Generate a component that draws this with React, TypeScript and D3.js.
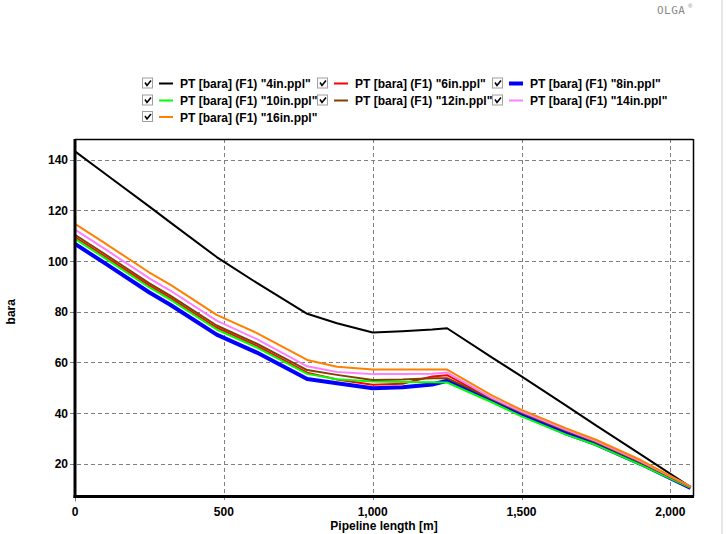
import React from "react";
import * as d3 from "d3";

const distances = [0, 100, 250, 320, 476, 611, 780, 880, 1000, 1100, 1200, 1250, 1400, 1500, 1650, 1750, 1900, 2068];

const p4in = [143.3, 134.6, 121.5, 115.3, 101.6, 91.4, 79.2, 75.5, 71.8, 72.3, 73, 73.5, 62, 54.5, 43, 35.2, 23.7, 10.8];
const p6in = [109.5, 101.9, 90.3, 85.5, 73.7, 66.5, 56, 53.3, 51.2, 51.6, 54.5, 55, 45.6, 40, 32.8, 28.4, 20.4, 10.7];
const p8in = [106.8, 99.2, 87.6, 82.8, 71, 63.9, 53.5, 51.8, 49.8, 50.2, 51.3, 52.8, 45, 39.5, 32, 27.8, 20, 10.5];
const p10in = [108.8, 101.2, 89.6, 84.8, 73, 65.9, 55.5, 53.4, 52.5, 52.3, 52.2, 52.1, 44.3, 38.7, 31.5, 27.4, 19.6, 10.5];
const p12in = [110.4, 102.8, 91.2, 86.4, 74.6, 67.4, 57, 55.1, 53.1, 53.3, 53.8, 53.8, 45.6, 40.2, 33, 28.6, 20.6, 10.8];
const p14in = [112.4, 104.8, 93.2, 88.4, 76.5, 69.2, 58.5, 56.2, 55.4, 55.4, 55.5, 56, 46, 40.6, 33.4, 29, 21, 11];
const p16in = [114.7, 107.1, 95.5, 90.7, 78.8, 71.6, 61, 58.3, 57.2, 57.2, 57.2, 57.2, 47, 41.3, 34, 29.5, 21.5, 11];

const seriesNames = [
  'PT [bara] (F1) "4in.ppl"',
  'PT [bara] (F1) "6in.ppl"',
  'PT [bara] (F1) "8in.ppl"',
  'PT [bara] (F1) "10in.ppl"',
  'PT [bara] (F1) "12in.ppl"',
  'PT [bara] (F1) "14in.ppl"',
  'PT [bara] (F1) "16in.ppl"',
];
const seriesValues = [p4in, p6in, p8in, p10in, p12in, p14in, p16in];
const seriesColors = ["#000000", "#ff0000", "#0000ff", "#00ff00", "#804000", "#ff80ff", "#ff8000"];
const seriesWidths = [2, 2, 4, 2, 2, 2, 2];

const xTicks = [0, 500, 1000, 1500, 2000];
const yTicks = [20, 40, 60, 80, 100, 120, 140];

const W = 728;
const H = 534;
const plot = { left: 75, right: 693, top: 139, bottom: 496.5 };
const FONT = "'Liberation Sans', Arial, sans-serif";

export default function App() {
  const x = d3.scaleLinear().domain([0, 2076]).range([plot.left, plot.right]);
  const y = d3.scaleLinear().domain([7.1, 148.2]).range([plot.bottom, plot.top]);
  const fmt = d3.format(",");

  const line = d3
    .line<[number, number]>()
    .x((d) => x(d[0]))
    .y((d) => y(d[1]));

  const legendCols = [142, 317, 492];
  const legendRows = [83.5, 100.5, 117];

  return (
    <svg
      width={W}
      height={H}
      style={{ position: "absolute", left: 0, top: 0, background: "#fff" }}
      fontFamily={FONT}
    >
      <rect x={0} y={0} width={W} height={H} fill="#fff" />
      {/* window edge */}
      <line x1={722} x2={722} y1={0} y2={H} stroke="#e6e6e6" strokeWidth={2} />

      {/* OLGA logo */}
      <text x={657} y={14} fontSize={11} fill="#8a8a8a" fontFamily="'DejaVu Sans Mono', monospace" letterSpacing={0.5}>
        OLGA
      </text>
      <text x={688} y={8} fontSize={6} fill="#8a8a8a">®</text>

      {/* Legend */}
      {seriesNames.map((name, i) => {
        const cx = legendCols[i % 3];
        const cy = legendRows[Math.floor(i / 3)];
        return (
          <g key={name}>
            <rect x={cx + 0.5} y={cy - 5.5} width={10} height={10} fill="#fff" stroke="#a0a0a0" strokeWidth={1} />
            <polyline
              points={`${cx + 3},${cy - 1} ${cx + 5},${cy + 2} ${cx + 9},${cy - 3}`}
              fill="none"
              stroke="#000"
              strokeWidth={1.6}
            />
            <line
              x1={cx + 17}
              x2={cx + 31}
              y1={cy}
              y2={cy}
              stroke={seriesColors[i]}
              strokeWidth={seriesWidths[i] === 4 ? 4 : 2}
            />
            <text x={cx + 38} y={cy + 4.5} fontSize={12} fontWeight="bold" fill="#000">
              {name}
            </text>
          </g>
        );
      })}

      {/* Grid */}
      {yTicks.map((t) => (
        <line
          key={"gy" + t}
          x1={plot.left - 5}
          x2={plot.right}
          y1={Math.round(y(t)) + 0.5}
          y2={Math.round(y(t)) + 0.5}
          stroke="#808080"
          strokeWidth={1}
          strokeDasharray="4,3"
        />
      ))}
      {xTicks.map((t) => (
        <line
          key={"gx" + t}
          x1={Math.round(x(t)) + 0.5}
          x2={Math.round(x(t)) + 0.5}
          y1={plot.top}
          y2={plot.bottom + 5}
          stroke="#808080"
          strokeWidth={1}
          strokeDasharray={t === 0 ? undefined : "4,3"}
        />
      ))}

      {/* Series */}
      {seriesValues.map((vals, i) => (
        <path
          key={"s" + i}
          d={line(distances.map((d, j) => [d, vals[j]] as [number, number])) || ""}
          fill="none"
          stroke={seriesColors[i]}
          strokeWidth={seriesWidths[i]}
          strokeLinejoin="round"
        />
      ))}

      {/* Frame */}
      <line x1={plot.left} x2={plot.right} y1={plot.top + 0.5} y2={plot.top + 0.5} stroke="#000" strokeWidth={1.5} />
      <line x1={plot.right + 0.5} x2={plot.right + 0.5} y1={plot.top} y2={plot.bottom} stroke="#000" strokeWidth={1.5} />
      <line x1={plot.left} x2={plot.left} y1={plot.top} y2={plot.bottom + 1.5} stroke="#000" strokeWidth={3} />
      <line x1={plot.left - 1.5} x2={plot.right + 1} y1={plot.bottom} y2={plot.bottom} stroke="#000" strokeWidth={3} />

      {/* Tick labels */}
      {yTicks.map((t) => (
        <text key={"ly" + t} x={68} y={y(t) + 4.5} fontSize={12} fontWeight="bold" textAnchor="end" fill="#000">
          {t}
        </text>
      ))}
      {xTicks.map((t) => (
        <text key={"lx" + t} x={x(t)} y={516} fontSize={12} fontWeight="bold" textAnchor="middle" fill="#000">
          {fmt(t)}
        </text>
      ))}

      {/* Axis titles */}
      <text x={(plot.left + plot.right) / 2} y={530} fontSize={12} fontWeight="bold" textAnchor="middle" fill="#000">
        Pipeline length [m]
      </text>
      <text
        transform={`translate(15,${(plot.top + plot.bottom) / 2 - 6}) rotate(-90)`}
        fontSize={12}
        fontWeight="bold"
        textAnchor="middle"
        fill="#000"
      >
        bara
      </text>
    </svg>
  );
}
